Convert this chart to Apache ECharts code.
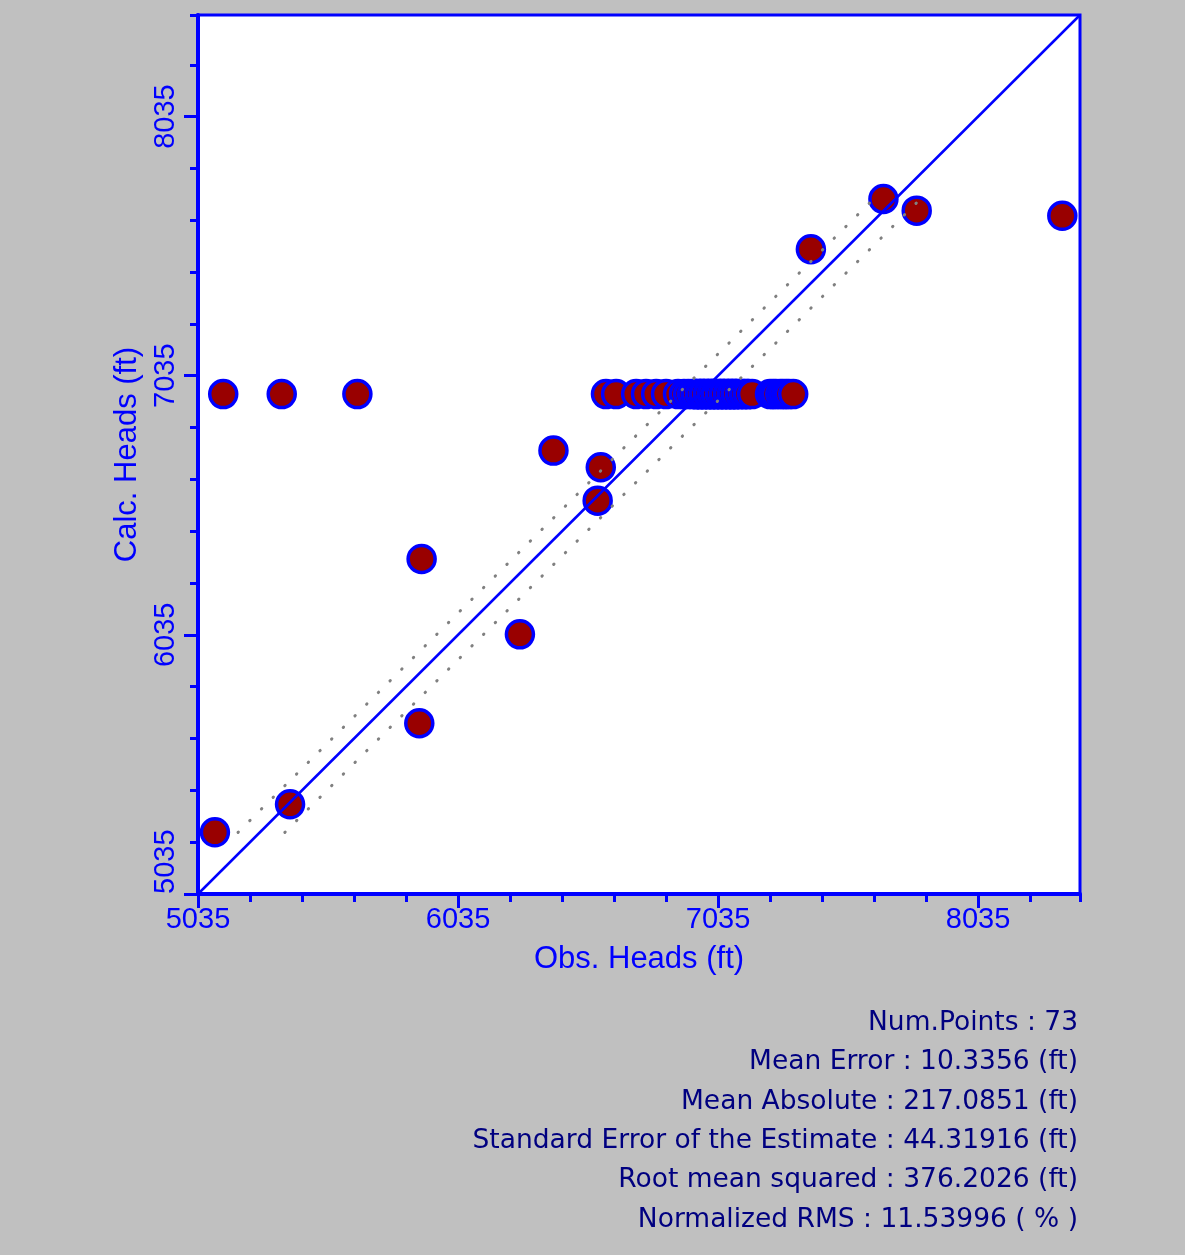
<!DOCTYPE html>
<html>
<head>
<meta charset="utf-8">
<script src="https://cdn.jsdelivr.net/npm/echarts@6/dist/echarts.min.js"></script>
<style>
html, body { margin: 0; padding: 0; background: #c0c0c0; }
#chart { width: 1185px; height: 1255px; }
</style>
</head>
<body>
<div id="chart"></div>
<script>
// ---- data ----
const obsHeads = [
  5100, 5132, 5357, 5389, 5648, 5886, 5895, 6273, 6402, 6572, 6584,
  6604, 6643, 6720, 6758, 6797, 6835, 6881, 6904, 6920, 6935,
  6950, 6950, 6950, 6966, 6966, 6966, 6981, 6981, 6981, 6997, 6997, 6997,
  7012, 7012, 7012, 7027, 7027, 7027, 7043, 7043, 7043, 7058, 7058, 7058,
  7074, 7074, 7074, 7089, 7089, 7089, 7104, 7104, 7104, 7120, 7120,
  7135, 7135, 7150, 7150, 7166,
  7235, 7247, 7258, 7274, 7285, 7297, 7308, 7324,
  7392, 7671, 7799, 8359
];
const calcHeads = [
  5273, 6964, 6964, 5381, 6964, 5694, 6328, 6037, 6746, 6553, 6682,
  6964, 6964, 6964, 6964, 6964, 6964, 6964, 6964, 6964, 6964,
  6964, 6964, 6964, 6964, 6964, 6964, 6964, 6964, 6964, 6964, 6964, 6964,
  6964, 6964, 6964, 6964, 6964, 6964, 6964, 6964, 6964, 6964, 6964, 6964,
  6964, 6964, 6964, 6964, 6964, 6964, 6964, 6964, 6964, 6964, 6964,
  6964, 6964, 6964, 6964, 6964,
  6964, 6964, 6964, 6964, 6964, 6964, 6964, 6964,
  7523, 7717, 7672, 7652
];
const axisMin = 5035;
const axisMax = 8427;
const majorTicks = [5035, 6035, 7035, 8035];
const minorTicks = [5235, 5435, 5635, 5835, 6235, 6435, 6635, 6835, 7235, 7435, 7635, 7835, 8235, 8427];
const confOffsets = [84, -96];          // calc - obs offsets of the dotted band lines
const confCalcRange = [5273, 7702];     // calc range spanned by the dotted lines
const xTitle = 'Obs. Heads (ft)';
const yTitle = 'Calc. Heads (ft)';
const statsLabels = ['Num.Points', 'Mean Error', 'Mean Absolute', 'Standard Error of the Estimate', 'Root mean squared', 'Normalized RMS'];
const statsValues = ['73', '10.3356 (ft)', '217.0851 (ft)', '44.31916 (ft)', '376.2026 (ft)', '11.53996 ( % )'];

// ---- chart ----
const BLUE = '#0000ff';
const FONT = '"Liberation Sans", Arial, sans-serif';
const chart = echarts.init(document.getElementById('chart'));

function mainAxis(isX) {
  return {
    type: 'value', min: axisMin, max: axisMax,
    position: isX ? 'bottom' : 'left',
    name: isX ? xTitle : yTitle,
    nameLocation: 'middle',
    nameGap: isX ? 50 : 49,
    nameTextStyle: { color: BLUE, fontSize: 31, fontFamily: FONT },
    axisLine: { show: true, onZero: false, lineStyle: { color: BLUE, width: 4 } },
    axisTick: { show: true, customValues: majorTicks, length: 14, lineStyle: { color: BLUE, width: 3 } },
    axisLabel: Object.assign({
      customValues: majorTicks, color: BLUE, fontSize: 29, fontFamily: FONT,
      margin: isX ? 11 : 18,
      formatter: v => String(v)
    }, isX ? {} : { rotate: 90, alignMinLabel: 'left' }),
    splitLine: { show: false }
  };
}
function minorAxis(isX) {
  return {
    type: 'value', min: axisMin, max: axisMax,
    position: isX ? 'bottom' : 'left',
    axisLine: { show: false, onZero: false },
    axisTick: { show: true, customValues: minorTicks, length: 8, lineStyle: { color: BLUE, width: 3 } },
    axisLabel: { show: false },
    splitLine: { show: false }
  };
}

const points = obsHeads.map((x, i) => [x, calcHeads[i]]);
const confSeries = confOffsets.map(off => ({
  type: 'line', xAxisIndex: 0, yAxisIndex: 0, z: 3, symbol: 'none', silent: true,
  data: confCalcRange.map(c => [c - off, c]),
  lineStyle: { color: '#808080', width: 3, type: [0.5, 16], cap: 'round' }
}));

chart.setOption({
  animation: false,
  backgroundColor: '#c0c0c0',
  grid: { left: 198, top: 15, width: 882, height: 879, show: true, backgroundColor: '#ffffff', borderColor: BLUE, borderWidth: 3 },
  xAxis: [mainAxis(true), minorAxis(true)],
  yAxis: [mainAxis(false), minorAxis(false)],
  series: [
    {
      type: 'scatter', xAxisIndex: 0, yAxisIndex: 0, z: 2, data: points,
      symbol: 'circle', symbolSize: 27, silent: true,
      itemStyle: { color: '#990000', borderColor: BLUE, borderWidth: 3.5, opacity: 1 }
    },
    {
      type: 'line', xAxisIndex: 0, yAxisIndex: 0, z: 4, symbol: 'none', silent: true,
      data: [[axisMin, axisMin], [axisMax, axisMax]],
      lineStyle: { color: BLUE, width: 2.5 }
    }
  ].concat(confSeries),
  graphic: statsLabels.map((l, i) => ({
    type: 'text', x: 1078, y: 1023 + i * 39.4,
    style: {
      text: l + ' : ' + statsValues[i],
      fill: '#000080', fontSize: 26.5, fontFamily: '"DejaVu Sans", sans-serif',
      align: 'right', verticalAlign: 'middle'
    }
  }))
});
</script>
</body>
</html>
